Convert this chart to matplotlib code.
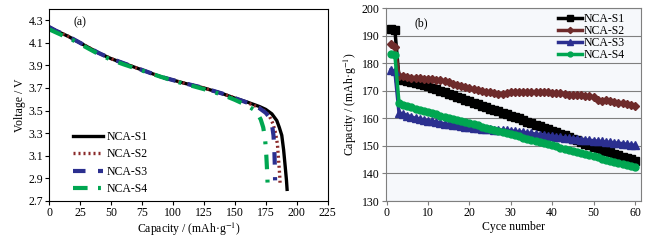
import matplotlib
matplotlib.use("Agg")
import matplotlib.pyplot as plt
import numpy as np

plt.rcParams['font.family'] = ['Liberation Serif', 'DejaVu Serif']
plt.rcParams['mathtext.fontset'] = 'stix'

## discharge curves (panel a)
labels = ["NCA-S1", "NCA-S2", "NCA-S3", "NCA-S4"]

top_cap = [0, 5, 10, 15, 20, 25, 30, 35, 40, 45, 50, 60, 75, 90, 100, 110, 125, 140, 150]
top_v = [4.24, 4.21, 4.185, 4.16, 4.13, 4.10, 4.07, 4.04, 4.01, 3.985, 3.96, 3.92,
         3.86, 3.80, 3.77, 3.74, 3.70, 3.65, 3.61]

s1_cap = top_cap + [160, 170, 175, 180, 184, 186, 188, 189.5, 190.8, 191.8, 192.3]
s1_v = top_v + [3.575, 3.535, 3.51, 3.47, 3.41, 3.35, 3.28, 3.15, 3.00, 2.88, 2.80]
s2_cap = top_cap + [160, 170, 175, 178, 181, 183, 184.5, 185.5, 186.3, 186.7]
s2_v = top_v + [3.57, 3.525, 3.49, 3.45, 3.38, 3.30, 3.20, 3.05, 2.93, 2.84]
s3_cap = top_cap + [160, 170, 175, 178, 180, 181.3, 182, 182.4, 182.6]
s3_v = top_v + [3.57, 3.52, 3.48, 3.44, 3.38, 3.28, 3.15, 3.00, 2.88]
s4_cap = [0, 5, 10, 15, 20, 25, 30, 35, 40, 45, 50, 60, 75, 90, 100, 110, 125, 140, 150,
          160, 165, 168, 171, 173, 174.5, 175.5, 176.2, 176.7]
s4_v = [4.22, 4.195, 4.17, 4.145, 4.12, 4.09, 4.06, 4.03, 4.0, 3.975, 3.95, 3.91,
        3.855, 3.80, 3.765, 3.735, 3.69, 3.64, 3.595, 3.545, 3.51, 3.48, 3.42, 3.35,
        3.25, 3.10, 2.95, 2.80]

## cycling (panel b)
cycles = list(range(1, 61))
cyc_s1 = [192.5, 192.0, 174.5, 174.0, 173.6, 173.2, 172.8, 172.5, 172.0, 171.6,
          171.0, 170.5, 170.0, 169.4, 168.8, 168.3, 167.8, 167.3, 166.8, 166.3,
          165.7, 165.2, 164.6, 164.0, 163.5, 163.0, 162.5, 162.0, 161.5, 161.0,
          160.5, 160.0, 159.4, 158.8, 158.3, 157.7, 157.2, 156.6, 156.0, 155.5,
          155.0, 154.4, 153.8, 153.2, 152.6, 152.0, 151.4, 150.8, 150.2, 149.6,
          149.1, 148.6, 148.1, 147.6, 147.1, 146.6, 146.1, 145.6, 145.1, 144.6]
cyc_s2 = [187.0, 186.0, 175.5, 175.2, 175.0, 174.8, 174.8, 174.6, 174.4, 174.4,
          174.2, 174.0, 173.8, 173.4, 173.0, 172.6, 172.2, 171.8, 171.4, 171.0,
          170.6, 170.3, 170.0, 169.7, 169.4, 169.0, 168.8, 168.7, 169.2, 169.4,
          169.5, 169.5, 169.6, 169.6, 169.5, 169.5, 169.5, 169.4, 169.4, 169.3,
          169.2, 169.0, 168.8, 168.6, 168.5, 168.4, 168.3, 168.2, 168.0, 167.6,
          166.8, 166.2, 166.8, 166.4, 165.8, 165.6, 165.4, 165.2, 164.8, 164.5]
cyc_s3 = [177.5, 177.0, 162.0, 161.5, 161.0, 160.5, 160.0, 159.8, 159.4, 159.2,
          158.9, 158.6, 158.4, 158.0, 157.8, 157.6, 157.4, 157.2, 157.0, 156.8,
          156.6, 156.4, 156.3, 156.2, 156.0, 155.9, 155.8, 155.7, 155.6, 155.5,
          155.3, 155.1, 154.9, 154.7, 154.5, 154.3, 154.1, 153.9, 153.7, 153.5,
          153.3, 153.1, 152.9, 152.7, 152.6, 152.5, 152.3, 152.2, 152.0, 151.9,
          151.7, 151.6, 151.4, 151.3, 151.1, 151.0, 150.8, 150.6, 150.4, 150.2]
cyc_s4 = [183.5, 183.0, 165.5, 165.0, 164.5, 164.0, 163.5, 163.0, 162.6, 162.2,
          161.8, 161.4, 161.0, 160.6, 160.2, 159.8, 159.4, 159.0, 158.6, 158.2,
          157.8, 157.4, 157.0, 156.6, 156.2, 155.8, 155.4, 155.0, 154.6, 154.2,
          153.8, 153.4, 153.0, 152.6, 152.2, 151.8, 151.4, 151.0, 150.6, 150.2,
          149.8, 149.4, 149.0, 148.6, 148.2, 147.8, 147.4, 147.0, 146.6, 146.2,
          145.8, 145.4, 145.0, 144.6, 144.2, 143.9, 143.5, 143.1, 142.7, 142.4]

colors = ["#000000", "#8b2a2a", "#2b2f8f", "#00a651"]
dark_red = "#6e2b2b"
legend_font = {'family': 'Liberation Serif', 'size': 8.5}

fig = plt.figure(figsize=(6.56, 2.4), dpi=100)

##panel a
ax1 = fig.add_axes([0.0752, 0.164, 0.425, 0.798])
ax1.plot(s1_cap, s1_v, color=colors[0], lw=2.4, ls='-', label=labels[0])
ax1.plot(s2_cap, s2_v, color=colors[1], lw=2.4, ls=(0, (0.6, 0.9)), label=labels[1])
ax1.plot(s3_cap, s3_v, color=colors[2], lw=3.0, ls=(0, (3, 3)), label=labels[2])
ax1.plot(s4_cap, s4_v, color=colors[3], lw=3.0, ls=(0, (3.5, 2.5, 0.7, 2.5)), label=labels[3])
ax1.set_xlim(0, 225.5)
ax1.set_ylim(2.7, 4.4)
ax1.set_xticks(np.arange(0, 226, 25))
ax1.set_yticks(np.arange(2.7, 4.31, 0.2))
ax1.set_yticklabels([f"{v:.1f}" for v in np.arange(2.7, 4.31, 0.2)])
ax1.tick_params(labelsize=8.5, length=3, width=0.8, pad=1.5)
ax1.set_xlabel("Capacity / (mAh·g$^{-1}$)", fontsize=8.5, labelpad=1)
ax1.set_ylabel("Voltage / V", fontsize=8.5, labelpad=2)
ax1.text(0.085, 0.93, "(a)", transform=ax1.transAxes, fontsize=8.5, va='center')
ax1.legend(loc='lower left', bbox_to_anchor=(0.067, 0.005), frameon=False, prop=legend_font,
           handlelength=2.6, handletextpad=0.3, labelspacing=0.45, borderaxespad=0)

##panel b
ax2 = fig.add_axes([0.5884, 0.1625, 0.389, 0.804])
ax2.set_facecolor("#f6f8fb")
ax2.plot(cycles, cyc_s1, color=colors[0], lw=2.5, marker='s', ms=6, label=labels[0])
ax2.plot(cycles, cyc_s2, color=dark_red, lw=2.5, marker='D', ms=4.5, label=labels[1])
ax2.plot(cycles, cyc_s3, color=colors[2], lw=2.5, marker='^', ms=6, label=labels[2])
ax2.plot(cycles, cyc_s4, color=colors[3], lw=2.5, marker='o', ms=5, label=labels[3])
ax2.set_xlim(-0.15, 61.5)
ax2.set_ylim(130, 200)
ax2.set_xticks(np.arange(0, 61, 10))
ax2.set_yticks(np.arange(130, 201, 10))
ax2.yaxis.grid(True, color="#7f7f7f", lw=0.8)
ax2.set_axisbelow(True)
for sp in ax2.spines.values():
    sp.set_color("#7f7f7f")
ax2.tick_params(labelsize=8.5, length=3, width=0.8, pad=1.5, color="#7f7f7f")
ax2.set_xlabel("Cyce number", fontsize=8.5, labelpad=1)
ax2.set_ylabel("Capacity / (mAh·g$^{-1}$)", fontsize=8.5, labelpad=2)
ax2.text(0.11, 0.92, "(b)", transform=ax2.transAxes, fontsize=8.5, va='center')
ax2.legend(loc='upper left', bbox_to_anchor=(0.657, 1.0), frameon=False, prop=legend_font,
           handlelength=2.0, handletextpad=0.1, labelspacing=0.0, borderaxespad=0,
           markerscale=0.7)

fig.savefig("out.png", dpi=100)
